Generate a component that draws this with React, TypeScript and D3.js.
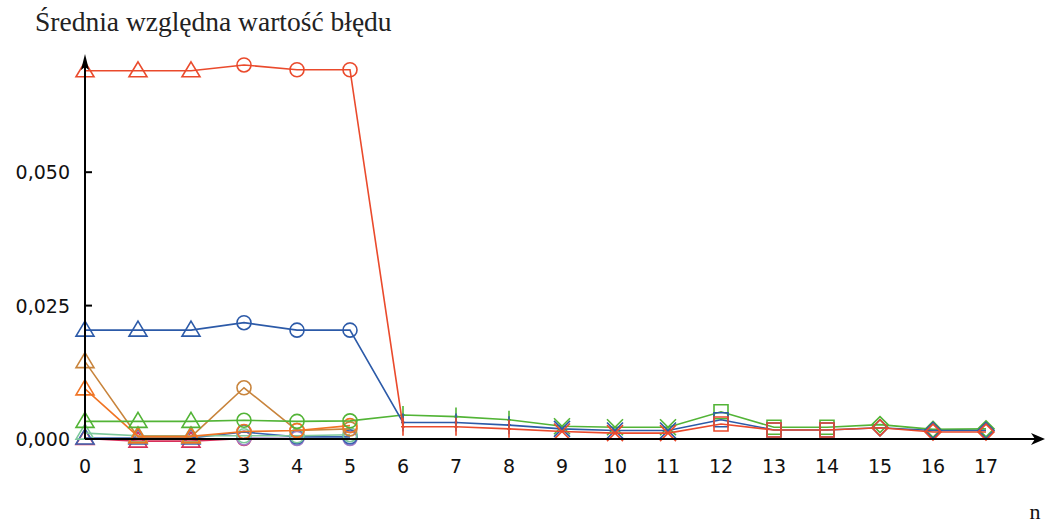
import React from 'react';
import * as d3 from 'd3';

const W = 1050;
const H = 524;

// x categories and y ticks
const nValues = d3.range(0, 18);
const xLabels = nValues.map((n) => String(n));
const yTicks = [0, 0.025, 0.05];
const yTickLabels = ['0,000', '0,025', '0,050'];

// series values (null = no point)
const redVals = [0.069, 0.069, 0.069, 0.0701, 0.0692, 0.0692, 0.0023, 0.0023, 0.0019, 0.0014, 0.0011, 0.0011, 0.0028, 0.0017, 0.0017, 0.0021, 0.0013, 0.0013];
const blueVals = [0.0204, 0.0204, 0.0204, 0.0218, 0.0204, 0.0204, 0.0031, 0.0031, 0.0026, 0.0019, 0.0016, 0.0016, 0.0036, 0.0017, 0.0017, 0.0021, 0.0016, 0.0016];
const greenVals = [0.0033, 0.0033, 0.0033, 0.0035, 0.0033, 0.0034, 0.0045, 0.0042, 0.0036, 0.0024, 0.0022, 0.0022, 0.0051, 0.0022, 0.0022, 0.0027, 0.0018, 0.0019];
const brownVals = [0.0145, 0.0004, 0.0004, 0.0096, 0.0016, 0.0019, null, null, null, null, null, null, null, null, null, null, null, null];
const orangeVals = [0.0094, 0.0005, 0.0005, 0.0014, 0.0016, 0.0025, null, null, null, null, null, null, null, null, null, null, null, null];
const tealVals = [0.0011, 0.0006, 0.0006, 0.0006, 0.0006, 0.0008, null, null, null, null, null, null, null, null, null, null, null, null];
const navyVals = [0.0002, 0.0002, 0.0002, 0.0013, 0.0004, 0.0004, null, null, null, null, null, null, null, null, null, null, null, null];
const purpleVals = [null, null, null, 0.0002, 0.0001, 0.0001, null, null, null, null, null, null, null, null, null, null, null, null];
const pinkVals = [0.0001, -0.0004, -0.0004, 0.0001, null, null, null, null, null, null, null, null, null, null, null, null, null, null];

const series = [
  { name: 'pink', color: '#d8305a', values: pinkVals },
  { name: 'purple', color: '#a07cc8', values: purpleVals },
  { name: 'navy', color: '#3a64b0', values: navyVals },
  { name: 'teal', color: '#7cc89c', values: tealVals },
  { name: 'brown', color: '#c8843c', values: brownVals },
  { name: 'orange', color: '#f07424', values: orangeVals },
  { name: 'green', color: '#52b436', values: greenVals },
  { name: 'blue', color: '#2c5aa8', values: blueVals },
  { name: 'red', color: '#ea4a2c', values: redVals },
];

// marker shape changes every three n values
const markerKinds = ['triangle', 'circle', 'plus', 'cross', 'square', 'diamond'];

const x = d3.scaleLinear().domain([0, 17]).range([85, 986]);
const y = d3.scaleLinear().domain([0, 0.025]).range([439, 305.6]);

function markerPath(kind: string, cx: number, cy: number): string {
  const p = d3.path();
  if (kind === 'triangle') {
    p.moveTo(cx, cy - 9);
    p.lineTo(cx + 9, cy + 6);
    p.lineTo(cx - 9, cy + 6);
    p.closePath();
  } else if (kind === 'circle') {
    p.moveTo(cx + 7, cy);
    p.arc(cx, cy, 7, 0, Math.PI * 2);
  } else if (kind === 'plus') {
    p.moveTo(cx, cy - 9);
    p.lineTo(cx, cy + 9);
    p.moveTo(cx - 2, cy);
    p.lineTo(cx + 2, cy);
  } else if (kind === 'cross') {
    p.moveTo(cx - 8, cy - 8);
    p.lineTo(cx + 8, cy + 8);
    p.moveTo(cx + 8, cy - 8);
    p.lineTo(cx - 8, cy + 8);
  } else if (kind === 'square') {
    p.rect(cx - 7, cy - 7, 14, 14);
  } else {
    p.moveTo(cx, cy - 8);
    p.lineTo(cx + 8, cy);
    p.lineTo(cx, cy + 8);
    p.lineTo(cx - 8, cy);
    p.closePath();
  }
  return p.toString();
}

export default function App() {
  const line = d3
    .line<number | null>()
    .defined((d) => d !== null)
    .x((_, i) => x(i))
    .y((d) => y(d as number));

  const y0 = y(0);
  const arrowTip = 54;
  const axisRight = 1045;
  const tickFont = '"DejaVu Sans", sans-serif';

  return (
    <svg width={W} height={H} style={{ position: 'absolute', left: 0, top: 0, background: '#fff' }}>
      <text x={35} y={31} fontFamily='"Liberation Serif", "Times New Roman", serif' fontSize={27.5} fill="#222">
        Średnia względna wartość błędu
      </text>

      {series.map((s) => (
        <g key={s.name}>
          <path d={line(s.values) || ''} fill="none" stroke={s.color} strokeWidth={1.6} />
          {s.values.map((v, i) =>
            v === null ? null : (
              <path
                key={i}
                d={markerPath(markerKinds[Math.floor(i / 3)], x(i), y(v))}
                fill="none"
                stroke={s.color}
                strokeWidth={1.6}
              />
            )
          )}
        </g>
      ))}

      {/* axes */}
      <line x1={x(0)} x2={axisRight - 8} y1={y0} y2={y0} stroke="#000" strokeWidth={2} />
      <path d={`M${axisRight},${y0} L${axisRight - 14},${y0 - 6} L${axisRight - 10},${y0} L${axisRight - 14},${y0 + 6} Z`} fill="#000" />
      <line x1={x(0)} x2={x(0)} y1={y0} y2={arrowTip + 10} stroke="#000" strokeWidth={2} />
      <path d={`M${x(0)},${arrowTip} L${x(0) + 4},${arrowTip + 16} L${x(0)},${arrowTip + 13} L${x(0) - 4},${arrowTip + 16} Z`} fill="#000" />

      {yTicks.map((t, i) => (
        <g key={t}>
          {t > 0 && <line x1={x(0)} x2={x(0) + 7} y1={y(t)} y2={y(t)} stroke="#000" strokeWidth={2} />}
          <text x={70} y={y(t) + 7} textAnchor="end" fontFamily={tickFont} fontSize={19} fill="#111">
            {yTickLabels[i]}
          </text>
        </g>
      ))}

      {nValues.map((n, i) => (
        <text key={n} x={x(n)} y={473} textAnchor="middle" fontFamily={tickFont} fontSize={19} fill="#111">
          {xLabels[i]}
        </text>
      ))}

      <text x={1035} y={519} textAnchor="middle" fontFamily='"Liberation Serif", serif' fontSize={22} fill="#111">
        n
      </text>
    </svg>
  );
}
